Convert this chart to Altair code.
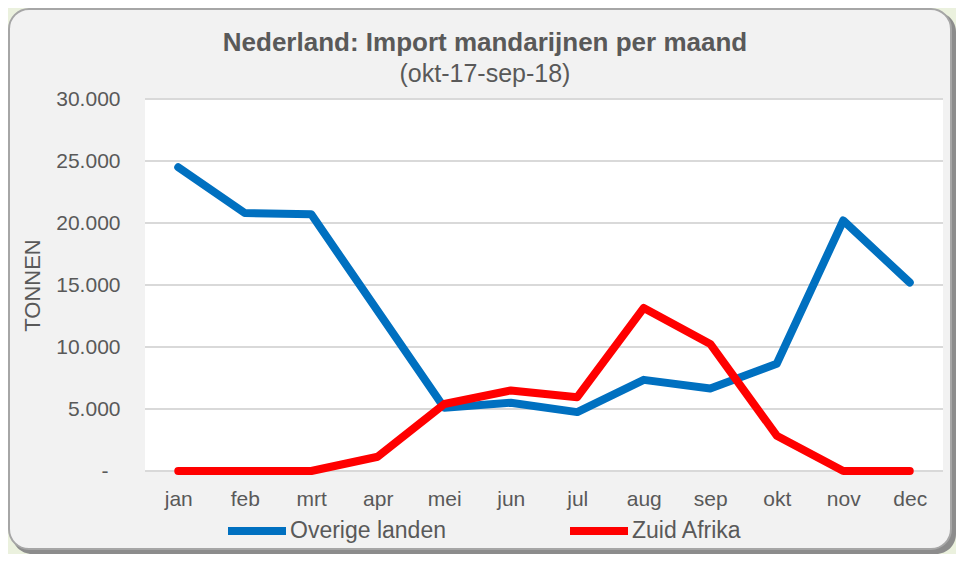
import altair as alt
import pandas as pd

# ---- data ----
months = ["jan", "feb", "mrt", "apr", "mei", "jun", "jul", "aug", "sep", "okt", "nov", "dec"]
overige = [24500, 20800, 20700, 12900, 5100, 5500, 4750, 7350, 6650, 8650, 20200, 15200]
zuid = [0, 0, 0, 1150, 5400, 6500, 5950, 13150, 10250, 2850, 0, 0]
series = ["Overige landen", "Zuid Afrika"]
colors = ["#0070C0", "#FF0000"]
y_ticks = [0, 5000, 10000, 15000, 20000, 25000, 30000]

# ---- layout ----
W, H = 798, 372
PAD_L, PAD_T, PAD_R, PAD_B = 137, 91, 13, 83
TXT = "#595959"
FONT = "Liberation Sans"

df = pd.DataFrame({
    "maand": months * 2,
    "serie": [series[0]] * len(months) + [series[1]] * len(months),
    "waarde": overige + zuid,
})
grid_df = pd.DataFrame({"waarde": y_ticks})
one = pd.DataFrame({"k": [0]})

yscale = alt.Scale(domain=[0, 30000], nice=False)
y_axis = alt.Axis(values=y_ticks,
                  labelExpr="datum.value == 0 ? '-' : replace(format(datum.value, ','), ',', '.')",
                  labelFontSize=21, labelColor=TXT, labelFont=FONT,
                  labelPadding={"condition": {"test": "datum.value == 0", "value": 37}, "value": 25},
                  ticks=False, domain=False, grid=False, zindex=1,
                  title="TONNEN", titleFontSize=22, titleFontWeight="normal",
                  titleColor=TXT, titleFont=FONT, titleAngle=270,
                  titleX=-113, titleY=H / 2, titleAlign="center", titleBaseline="middle")

shadow = alt.Chart(one).mark_rect(fill="#8c8c8c", cornerRadius=20, clip=False).encode(
    x=alt.value(-PAD_L + 4), x2=alt.value(W + PAD_R),
    y=alt.value(-PAD_T + 4), y2=alt.value(H + PAD_B),
)
frame = alt.Chart(one).mark_rect(fill="#F2F2F2", stroke="#a6a6a6", strokeWidth=2,
                                 cornerRadius=20, clip=False).encode(
    x=alt.value(-PAD_L + 1), x2=alt.value(W + PAD_R - 5),
    y=alt.value(-PAD_T + 1), y2=alt.value(H + PAD_B - 5),
)
plotbg = alt.Chart(one).mark_rect(fill="white").encode(
    x=alt.value(0), x2=alt.value(W), y=alt.value(0), y2=alt.value(H),
)
grid = alt.Chart(grid_df).mark_rule(color="#D9D9D9", strokeWidth=2).encode(
    y=alt.Y("waarde:Q", scale=yscale, axis=y_axis),
)

lines = alt.Chart(df).mark_line(strokeWidth=8, strokeCap="round", strokeJoin="round").encode(
    x=alt.X("maand:N", sort=months, title=None,
            axis=alt.Axis(labelAngle=0, labelFontSize=21, labelColor=TXT, labelFont=FONT,
                          ticks=False, domain=False, grid=False, labelPadding=17, zindex=1)),
    y=alt.Y("waarde:Q", scale=yscale, axis=y_axis),
    color=alt.Color("serie:N", scale=alt.Scale(domain=series, range=colors),
                    legend=alt.Legend(orient="none", legendX=79, legendY=399,
                                      direction="horizontal", title=None,
                                      labelFontSize=23, labelColor=TXT, labelFont=FONT,
                                      symbolType="stroke", symbolStrokeWidth=8, symbolSize=3364,
                                      columnPadding=108, labelOffset=0, padding=0)),
)

chart = alt.layer(shadow, frame, plotbg, grid, lines).properties(
    width=W, height=H,
    autosize=alt.AutoSizeParams(type="none"),
    padding={"left": PAD_L, "top": PAD_T, "right": PAD_R, "bottom": PAD_B},
    background="#EBF1DE",
    title=alt.TitleParams(text="Nederland: Import mandarijnen per maand",
                          subtitle="(okt-17-sep-18)", anchor="middle", dx=-59,
                          fontSize=26, fontWeight="bold", color=TXT, font=FONT,
                          subtitleFontSize=25, subtitleColor=TXT, subtitleFont=FONT,
                          offset=-79, subtitlePadding=6),
).configure_view(strokeWidth=0)

chart.save("out.html", embed_options={"renderer": "svg", "actions": False})
